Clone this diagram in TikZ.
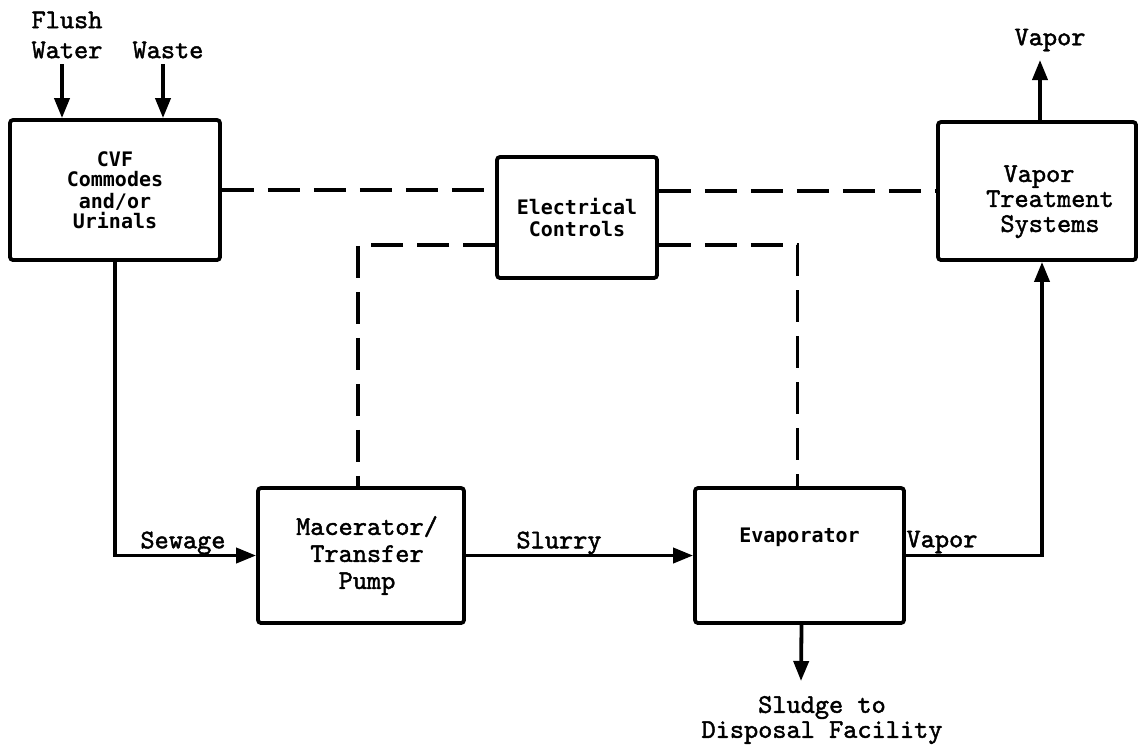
\documentclass[tikz,border=0pt]{standalone}
\usepackage{fontspec}
\newfontfamily\gothic{DejaVu Sans Mono}
\newfontfamily\twfont{lmmono10-regular.otf}[FakeBold=1.6]
\usetikzlibrary{arrows.meta}
\begin{document}
\begin{tikzpicture}[x=0.5pt,y=-0.5pt, line width=1.9pt,
  tw/.style={font=\twfont\fontsize{13.5}{13.5}\selectfont},
  gothic/.style={font=\gothic\bfseries\fontsize{10}{10}\selectfont},
  box/.style={draw, rounded corners=1.5pt, align=center, inner sep=0pt},
  flow/.style={-{Triangle[length=10pt,width=7.5pt]}},
  ctl/.style={dash pattern=on 16pt off 7pt},
  lbl/.style={tw, inner sep=0pt, align=center}]
\useasboundingbox (0,0) rectangle (1139,746);

% boxes
\node[box, gothic, minimum width=105pt, minimum height=70pt] (cvf) at (115,190)
  {CVF\\[0pt]Commodes\\[1pt]and/or\\[0pt]Urinals};
\node[box, gothic, minimum width=80pt, minimum height=60.5pt] (ec) at (577,217.5)
  {Electrical\\[1pt]Controls};
\node[box, tw, minimum width=99pt, minimum height=69pt] (vts) at (1037,191)
  {\rule{0pt}{19pt}\hspace*{2pt}Vapor\\[-1pt]\hspace*{13pt}Treatment\\[-1pt]\hspace*{13pt}Systems};
\node[box, tw, minimum width=103pt, minimum height=67.5pt] (mac) at (361,555.5)
  {\hspace*{6pt}Macerator/\\\hspace*{6pt}Transfer\\\hspace*{6pt}Pump};
\node[box, minimum width=104.5pt, minimum height=67.5pt,
  label={[gothic, anchor=center, yshift=-25.5pt]north:Evaporator}] (evap) at (799.5,555.5) {};

% outside labels
\node[lbl, font=\twfont\fontsize{13.5}{15}\selectfont] (fw) at (67,35) {Flush\\Water};
\node[lbl] (ws) at (168,50) {Waste};
\node[lbl] (vout) at (1050,40) {Vapor};
\node[lbl] (sew) at (183,543) {Sewage};
\node[lbl] (slu) at (559,543) {Slurry};
\node[lbl] (vap) at (942,542) {Vapor};
\node[lbl, font=\twfont\fontsize{13.5}{12.5}\selectfont] (sludge) at (822,720) {Sludge to\\Disposal Facility};

\coordinate (vtip) at (1040,60);
\coordinate (sltip) at (801,681);

% flow connectors
\draw[flow] ([xshift=-26.5pt]cvf.north |- fw.south) ++(0,4) -- ([xshift=-26.5pt]cvf.north);
\draw[flow] ([xshift=24pt]cvf.north |- ws.south) ++(0,4) -- ([xshift=24pt]cvf.north);
\draw[flow] ([xshift=1.5pt]vts.north) -- (vtip);
\draw[flow] (cvf.south) |- (mac.west);
\draw[flow] (mac.east) -- (evap.west);
\draw[flow] (evap.east) -| ([xshift=2.5pt]vts.south);
\draw[flow] ([xshift=1pt]evap.south) -- (sltip);

% control lines
\draw[ctl] (cvf.east) -- (cvf.east -| ec.west);
\draw[ctl] (vts.west -| ec.east) -- (vts.west);
\draw[ctl] ([yshift=-13.75pt]ec.west) -| ([xshift=-1.5pt]mac.north);
\draw[ctl] ([yshift=-13.75pt]ec.east) -| ([xshift=-1pt]evap.north);
\end{tikzpicture}
\end{document}
